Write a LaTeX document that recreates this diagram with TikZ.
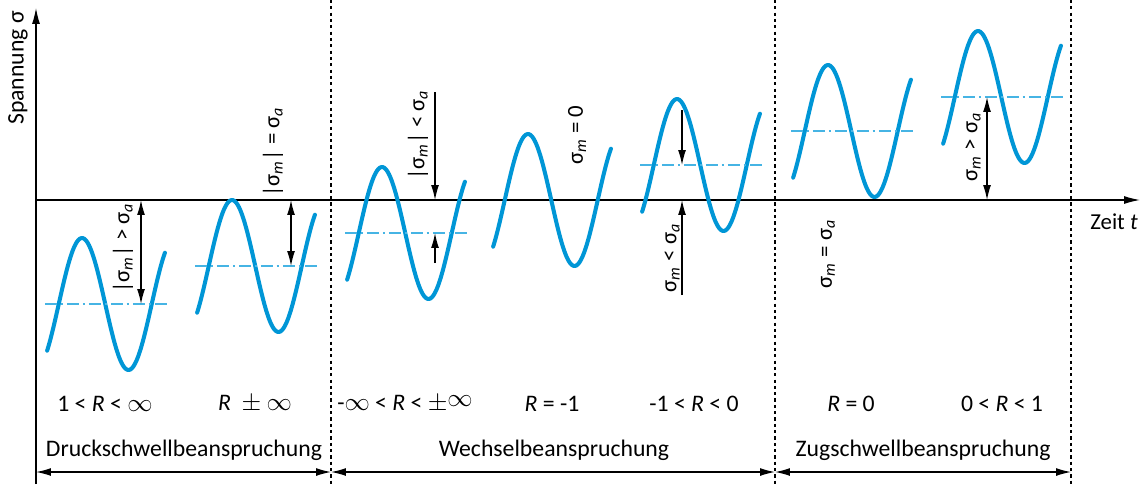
\documentclass[tikz,border=0pt]{standalone}
\usepackage{fontspec}
\setmainfont{Carlito}
\usetikzlibrary{arrows.meta}
\definecolor{waveblue}{RGB}{0,150,214}
\definecolor{meanblue}{RGB}{70,180,228}
\newcommand{\sig}[1]{σ\textsubscript{\itshape #1}}

\begin{document}
\begin{tikzpicture}[x=0.02cm, y=-0.02cm,
    wave/.style={waveblue, line width=2.3pt, line cap=round},
    meanline/.style={meanblue, line width=0.8pt, dash pattern=on 7pt off 2pt on 1.5pt off 2pt},
    divider/.style={line width=0.6pt, dash pattern=on 1.8pt off 1.8pt},
    axis/.style={line width=0.7pt, -{Latex[length=9pt,width=4.5pt]}},
    dim/.style={line width=0.7pt, {Latex[length=8.5pt,width=4.5pt]}-{Latex[length=8.5pt,width=4.5pt]}},
    tip/.style={line width=0.7pt, -{Latex[length=8.5pt,width=4.5pt]}},
    lbl/.style={font=\fontsize{13.5}{16}\selectfont, inner sep=0pt},
    rlbl/.style={font=\fontsize{13.5}{16}\selectfont, inner sep=0pt},
    vlbl/.style={font=\fontsize{13}{15}\selectfont, rotate=90, inner sep=0pt}]
  \useasboundingbox (0,0) rectangle (1148,484);

  % axes
  \coordinate (ybot) at (36,484);
  \coordinate (ytop) at (36,8);
  \coordinate (O) at (36,200);
  \coordinate (xend) at (1140,200);
  \draw[axis] (ybot) -- (ytop);
  \draw[axis] (O) -- (xend);
  \node[lbl, rotate=90] (ylabel) at (18,68) {Spannung σ};
  \node[lbl, font=\fontsize{13}{15}\selectfont] (xlabel) at (1114,222) {Zeit \textit{t}};

  % dividers
  \foreach \dx in {331, 775, 1071}
    \draw[divider] (\dx,0) -- (\dx,484);

  % sine curves, given by position of the peak and mean stress
  \foreach \px/\my in {82/304, 232/266, 382/233, 528/200, 677/165, 828/131, 978/97}
    \draw[wave] plot[domain=-45:411, samples=80, smooth]
      ({\px+(\x-90)*0.2583}, {\my-66*sin(\x)});
  \foreach \px/\my in {82/304, 232/266, 382/233, 677/165, 828/131, 978/97}
    \draw[meanline] (\px-37,\my) -- (\px+85,\my);

  % stress arrows
  \coordinate (a1t) at (141,200); \coordinate (a1b) at (141,304);
  \draw[dim] (a1t) -- (a1b);
  \coordinate (a2t) at (291,200); \coordinate (a2b) at (291,266);
  \draw[dim] (a2t) -- (a2b);
  \coordinate (a3t) at (435,92);  \coordinate (a3m) at (435,200);
  \coordinate (a3n) at (435,233); \coordinate (a3b) at (435,263);
  \draw[tip] (a3t) -- (a3m);
  \draw[tip] (a3b) -- (a3n);
  \coordinate (a5t) at (682,110); \coordinate (a5m) at (682,165);
  \coordinate (a5n) at (682,200); \coordinate (a5b) at (682,295);
  \draw[tip] (a5t) -- (a5m);
  \draw[tip] (a5b) -- (a5n);
  \coordinate (a7t) at (987,97);  \coordinate (a7b) at (987,200);
  \draw[dim] (a7t) -- (a7b);

  % rotated labels
  \node[vlbl] (v1) at (123,248) {|\sig{m}| > \sig{a}};
  \node[vlbl] (v2) at (273,152) {|\sig{m}| = \sig{a}};
  \node[vlbl] (v3) at (418,135) {|\sig{m}| < \sig{a}};
  \node[vlbl] (v4) at (577,135) {\sig{m} = 0};
  \node[vlbl] (v5) at (672,258) {\sig{m} < \sig{a}};
  \node[vlbl] (v6) at (828,254) {\sig{m} = \sig{a}};
  \node[vlbl] (v7) at (973,147) {\sig{m} > \sig{a}};

  % stress ratios
  \node[rlbl] (r1) at (105,404) {1 < \textit{R} < $\infty$};
  \node[rlbl] (r2) at (255,404) {\textit{R} \ $\pm$ $\infty$};
  \node[rlbl] (r3) at (405,404) {-$\infty$ < \textit{R} < $\pm$\raisebox{2.3pt}{$\infty$}};
  \node[rlbl] (r4) at (552,404) {\textit{R} = -1};
  \node[rlbl] (r5) at (694,404) {-1 < \textit{R} < 0};
  \node[rlbl] (r6) at (851,404) {\textit{R} = 0};
  \node[rlbl] (r7) at (1002,404) {0 < \textit{R} < 1};

  % load types
  \node[lbl] (druck) at (184,450) {Druckschwellbeanspruchung};
  \node[lbl] (wechsel) at (554,450) {Wechselbeanspruchung};
  \node[lbl] (zug) at (923,450) {Zugschwellbeanspruchung};
  \coordinate (b0) at (36,472);  \coordinate (b1) at (331,472);
  \coordinate (b2) at (775,472); \coordinate (b3) at (1071,472);
  \draw[dim] (b0) -- (b1);
  \draw[dim] (b1) -- (b2);
  \draw[dim] (b2) -- (b3);
\end{tikzpicture}
\end{document}
